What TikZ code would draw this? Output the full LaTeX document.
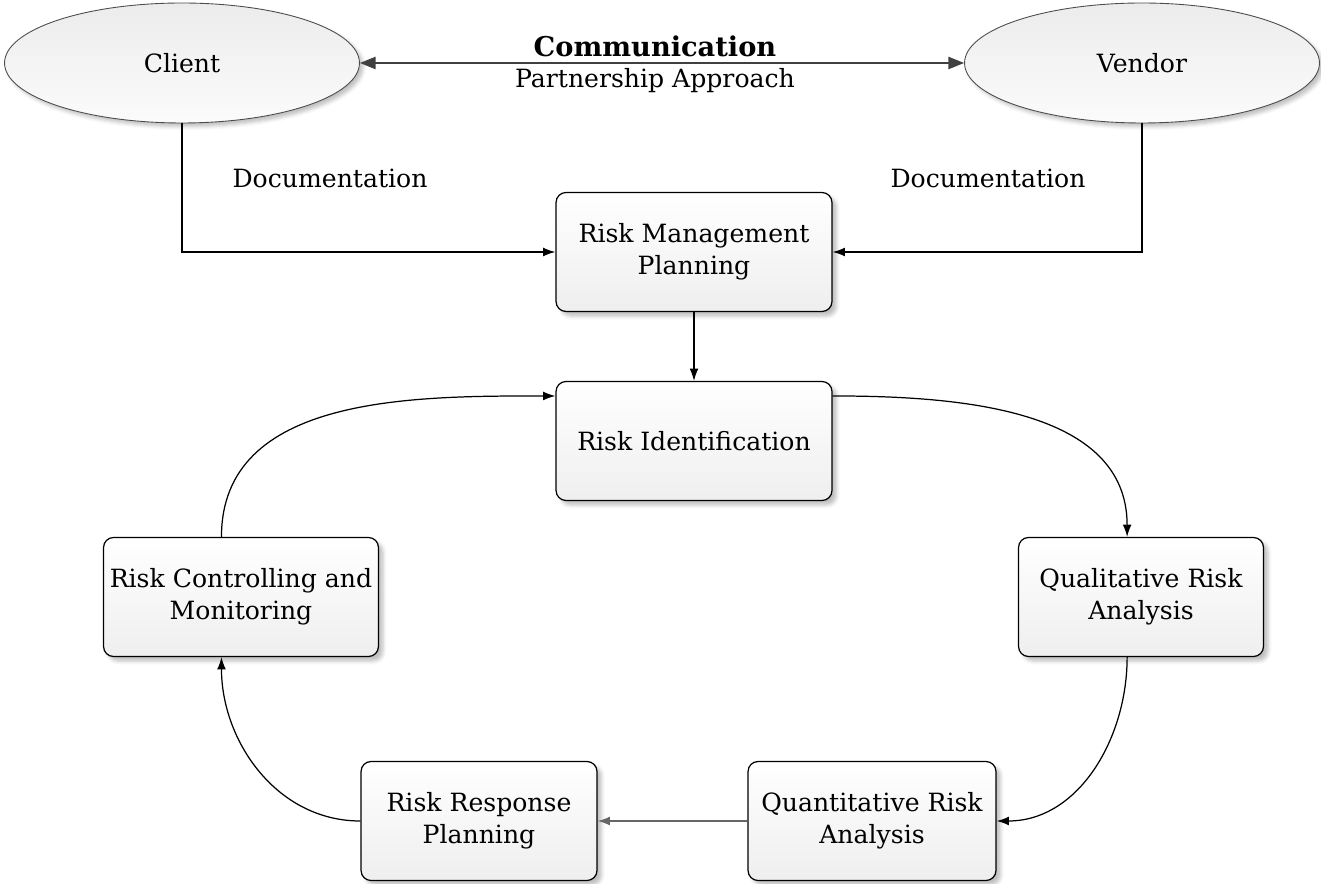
\documentclass[tikz,border=0pt]{standalone}
\usepackage{fontspec}
\setmainfont{DejaVu Serif}
\usetikzlibrary{arrows.meta, shadows.blur, shapes.geometric, positioning}
\tikzset{
  stage/.style={
    rectangle, rounded corners=0.2cm, minimum height=2.38cm, inner sep=1pt,
    align=center, draw=black, line width=0.7pt, top color=white, bottom color=gray!13,
    blur shadow={shadow xshift=0.5ex,shadow yshift=-0.5ex,shadow opacity=25,shadow blur steps=4},
    font=\fontsize{14.3}{18}\selectfont
  },
  party/.style={
    ellipse, minimum width=7.1cm, minimum height=2.4cm, inner sep=1pt,
    draw=black!70, line width=0.5pt, top color=gray!15, bottom color=gray!3,
    blur shadow={shadow xshift=0.4ex,shadow yshift=-0.4ex,shadow opacity=25,shadow blur steps=4},
    font=\fontsize{14.3}{18}\selectfont
  },
  label/.style={font=\fontsize{14.3}{18}\selectfont},
  flow/.style={
    -{Latex[length=7pt,width=5pt]}, line width=0.7pt
  },
  talk/.style={
    {Triangle[length=9pt,width=7pt]}-{Triangle[length=9pt,width=7pt]}, line width=1pt, draw=black!75, fill=black!75
  }
}

\begin{document}
\begin{tikzpicture}[x=0.02cm, y=0.02cm]
      \useasboundingbox (0,0) rectangle (1321,-884);

      % Client and vendor
      \node[party] (client) at (182,-63) {Client};
      \node[party] (vendor) at (1142,-63) {Vendor};

      % Process boxes
      \node[stage, minimum width=5.52cm] (rmp) at (694,-252) {Risk Management\\Planning};
      \node[stage, minimum width=5.52cm] (ri) at (694,-441) {Risk Identification};
      \node[stage, minimum width=5.5cm] (rcm) at (241,-597) {Risk Controlling and\\Monitoring};
      \node[stage, minimum width=4.9cm] (qra) at (1141,-597) {Qualitative Risk\\Analysis};
      \node[stage, minimum width=4.72cm] (rrp) at (479,-821) {Risk Response\\Planning};
      \node[stage, minimum width=4.96cm] (qnra) at (872,-821) {Quantitative Risk\\Analysis};

      % Communication between client and vendor
      \draw[talk] (client.east) -- (vendor.west);
      \node[label, font=\fontsize{15.5}{18}\selectfont\bfseries] (comm) at (655,-46) {Communication};
      \node[label] (partner) at (655,-81) {Partnership Approach};

      % Documentation flows
      \draw[flow] (client.south) |- (rmp.west);
      \draw[flow] (vendor.south) |- (rmp.east);
      \node[label] (docl) at (330,-178) {Documentation};
      \node[label] (docr) at (988,-178) {Documentation};

      % Risk cycle
      \draw[flow] (rmp.south) -- (ri.north);
      \draw[flow] (ri.18) to[out=0, in=90] (qra.103);
      \draw[flow] (qra.257) to[out=270, in=0] (qnra.east);
      \draw[flow, draw=black!60] (qnra.west) -- (rrp.east);
      \draw[flow] (rrp.west) to[out=180, in=270] (rcm.252);
      \draw[flow] (rcm.108) to[out=90, in=180] (ri.162);
    \end{tikzpicture}
\end{document}
